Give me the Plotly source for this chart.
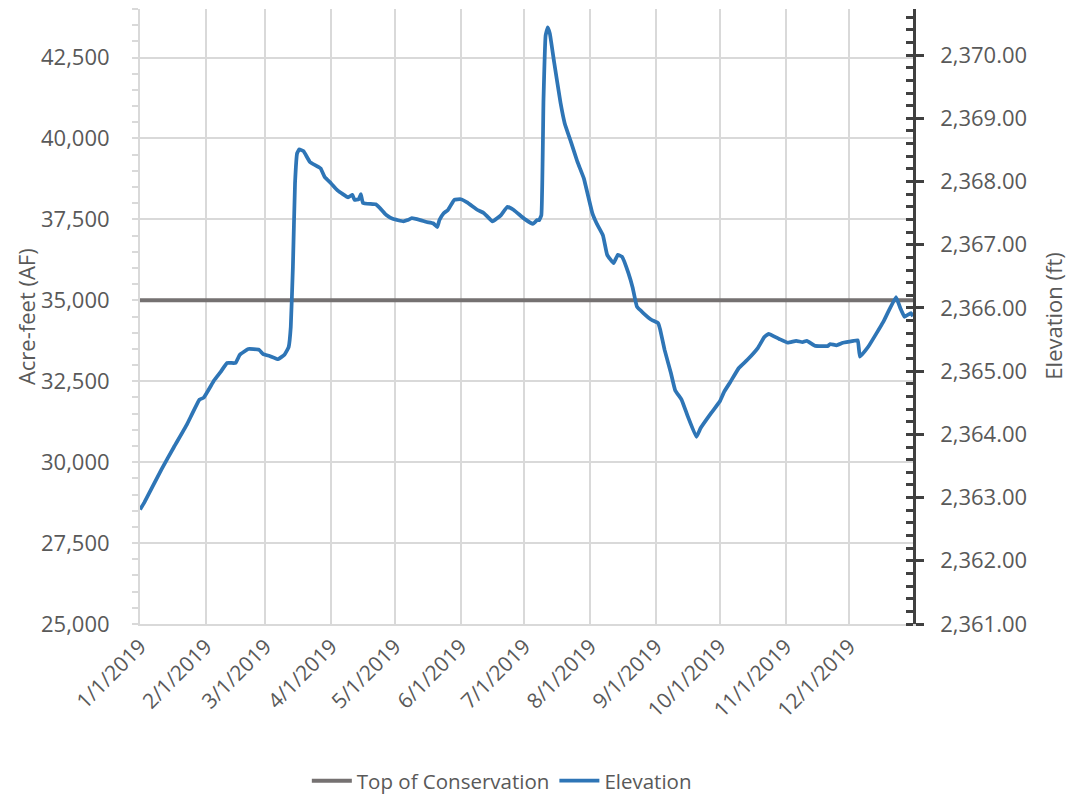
import pandas as pd
import plotly.graph_objects as go

# ---- data ----
elev_day = [0, 2, 10, 16, 22, 28, 30, 35, 38, 41, 45, 47, 51, 56, 58, 61, 65, 68, 70, 71,
            72, 73, 74, 75, 77, 80, 85, 87, 90, 93, 98, 100, 101, 103, 104, 105, 111, 113,
            116, 119, 124, 126, 128, 132, 135, 138, 140, 141, 143, 145, 148, 151, 154, 159,
            162, 166, 170, 173, 176, 181, 185, 187, 188, 189, 190, 191, 192, 193, 195, 198,
            200, 203, 206, 209, 213, 215, 218, 220, 223, 225, 227, 230, 232, 234, 237, 241,
            244, 245, 247, 250, 252, 255, 258, 262, 264, 269, 273, 275, 278, 282, 286, 291,
            294, 296, 301, 305, 309, 312, 314, 318, 324, 325, 328, 331, 336, 338, 339, 343,
            347, 350, 356, 358, 360, 363, 364]
elev_ft = [2362.81, 2362.92, 2363.44, 2363.80, 2364.15, 2364.55, 2364.58, 2364.86, 2364.99,
           2365.13, 2365.13, 2365.26, 2365.35, 2365.34, 2365.27, 2365.24, 2365.19, 2365.26,
           2365.38, 2365.70, 2366.65, 2367.97, 2368.45, 2368.51, 2368.48, 2368.31, 2368.21,
           2368.07, 2367.97, 2367.86, 2367.75, 2367.79, 2367.71, 2367.72, 2367.80, 2367.66,
           2367.64, 2367.58, 2367.47, 2367.41, 2367.37, 2367.39, 2367.42, 2367.39, 2367.36,
           2367.34, 2367.28, 2367.39, 2367.50, 2367.55, 2367.71, 2367.72, 2367.67, 2367.55,
           2367.50, 2367.37, 2367.47, 2367.60, 2367.55, 2367.41, 2367.33, 2367.39, 2367.39,
           2367.47, 2369.29, 2370.31, 2370.44, 2370.34, 2369.89, 2369.25, 2368.92, 2368.62,
           2368.31, 2368.05, 2367.50, 2367.34, 2367.15, 2366.84, 2366.71, 2366.84, 2366.81,
           2366.55, 2366.32, 2366.02, 2365.92, 2365.81, 2365.76, 2365.65, 2365.34, 2364.97,
           2364.70, 2364.55, 2364.28, 2363.96, 2364.10, 2364.34, 2364.52, 2364.67, 2364.83,
           2365.05, 2365.18, 2365.37, 2365.54, 2365.59, 2365.51, 2365.45, 2365.48, 2365.46,
           2365.48, 2365.40, 2365.40, 2365.43, 2365.41, 2365.45, 2365.48, 2365.49, 2365.23,
           2365.39, 2365.61, 2365.78, 2366.17, 2366.00, 2365.86, 2365.92, 2365.87]

conservation_dates = ["2019-01-01", "2019-12-31"]
conservation_af = [35000, 35000]

month_ticks = ["2019-%02d-01" % m for m in range(1, 13)]
month_labels = ["%d/1/2019" % m for m in range(1, 13)]

left_ticks = [25000, 27500, 30000, 32500, 35000, 37500, 40000, 42500]
right_ticks = [2361 + i for i in range(10)]

start = pd.Timestamp("2019-01-01")
elev_dates = [start + pd.Timedelta(days=d) for d in elev_day]

FONT = "Open Sans"
TXT = "#595959"

fig = go.Figure()
fig.add_trace(go.Scatter(x=conservation_dates, y=conservation_af, mode="lines",
                         name="Top of Conservation", line=dict(color="#757171", width=4),
                         yaxis="y"))
fig.add_trace(go.Scatter(x=elev_dates, y=elev_ft, mode="lines", name="Elevation",
                         line=dict(color="#2e75b6", width=3.75, shape="spline", smoothing=0.3),
                         yaxis="y2"))

fig.update_layout(
    width=1070, height=796,
    margin=dict(l=139.5, r=157, t=9, b=172),
    paper_bgcolor="white", plot_bgcolor="white",
    font=dict(family=FONT, color=TXT, size=21),
    showlegend=True,
    legend=dict(orientation="h", xref="container", yref="container",
                x=0.469, xanchor="center", y=0.019, yanchor="middle",
                font=dict(size=20.5, color=TXT), itemwidth=40),
    xaxis=dict(type="date", range=["2019-01-01", "2019-12-31"], automargin=False,
               tickvals=month_ticks, ticktext=month_labels, tickangle=-45,
               showgrid=True, gridcolor="#d9d9d9", gridwidth=2,
               showline=True, linecolor="#d9d9d9", linewidth=2,
               ticks="", tickfont=dict(size=21, color=TXT), zeroline=False),
    yaxis=dict(range=[25000, 44000], tickvals=left_ticks, automargin=False,
               ticktext=[f"{v:,}" for v in left_ticks],
               showgrid=True, gridcolor="#d9d9d9", gridwidth=2,
               showline=True, linecolor="#d9d9d9", linewidth=2,
               ticks="outside", ticklen=6, tickwidth=2, tickcolor="#d9d9d9",
               minor=dict(dtick=500, tick0=25000, ticks="outside", ticklen=6,
                          tickwidth=2, tickcolor="#d9d9d9", showgrid=False),
               ticklabelstandoff=18, tickfont=dict(size=22, color=TXT), zeroline=False),
    yaxis2=dict(range=[2361, 2370.73], overlaying="y", side="right", anchor="x",
                automargin=False,
                tickvals=right_ticks, ticktext=[f"{v:,.2f}" for v in right_ticks],
                showgrid=False, showline=True, linecolor="#404040", linewidth=2.5,
                ticks="outside", ticklen=8, tickwidth=2.5, tickcolor="#404040",
                minor=dict(dtick=0.2, tick0=2361, ticks="inside", ticklen=7,
                           tickwidth=2.5, tickcolor="#404040", showgrid=False),
                ticklabelstandoff=12, tickfont=dict(size=22, color=TXT), zeroline=False),
    yaxis3=dict(range=[2361, 2370.73], overlaying="y", side="right", anchor="x",
                automargin=False,
                tickvals=right_ticks, showticklabels=False, showgrid=False,
                showline=False, ticks="inside", ticklen=7, tickwidth=2.5,
                tickcolor="#404040", zeroline=False),
    annotations=[
        dict(text="Acre-feet (AF)", textangle=-90, xref="paper", yref="paper",
             x=-0.148, y=0.5, xanchor="center", yanchor="middle", showarrow=False,
             font=dict(size=22, color=TXT)),
        dict(text="Elevation (ft)", textangle=-90, xref="paper", yref="paper",
             x=1.18, y=0.5, xanchor="center", yanchor="middle", showarrow=False,
             font=dict(size=22, color=TXT)),
    ],
)
# invisible helper trace so yaxis3 (crossing major ticks) is drawn
fig.add_trace(go.Scatter(x=conservation_dates, y=[None, None], yaxis="y3",
                         showlegend=False, hoverinfo="skip"))

fig.write_html("out.html")
